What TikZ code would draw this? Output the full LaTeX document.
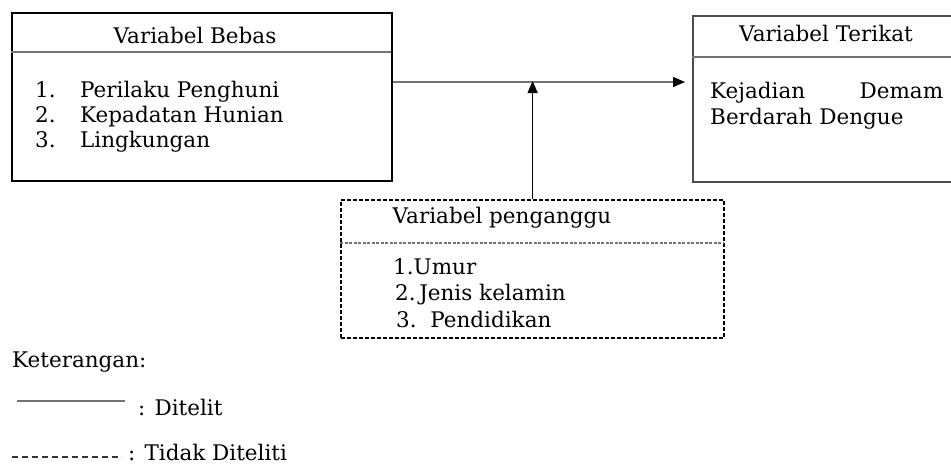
\documentclass[tikz,border=0pt]{standalone}
\usepackage{fontspec}
\setmainfont{DejaVu Serif}
\usetikzlibrary{arrows.meta}
\begin{document}
\begin{tikzpicture}[x=1pt,y=-1pt,
  txt/.style={font=\fontsize{21.5}{24}\selectfont, inner sep=0pt, text=black},
  boxsolid/.style={draw=black, line width=2.4pt, minimum width=380pt, minimum height=168pt, anchor=north west, inner sep=0pt},
  boxthin/.style={draw=black!70, line width=1.5pt, anchor=north west, inner sep=0pt},
  boxdash/.style={draw=black, line width=2.2pt, dash pattern=on 4pt off 2pt, anchor=north west, inner sep=0pt},
  sep/.style={draw=black!55, line width=1.5pt},
  sepdash/.style={draw=black!55, line width=1.5pt, dash pattern=on 3pt off 1.5pt},
  conn/.style={line width=1.3pt, -{Triangle[length=12pt,width=10pt,color=black]}},
]
\useasboundingbox (0,0) rectangle (951,466);
\begin{scope}
\clip (0,0) rectangle (951,466);

% left box
\node[boxsolid] (bebas) at (11,12) {};
\draw[sep] (11,52) -- (391,52);
\node[txt, anchor=base] (tb) at (195,43) {Variabel Bebas};
\node[txt, anchor=base west] (b1n) at (35,97) {1.};
\node[txt, anchor=base west] (b1) at (80,97) {Perilaku Penghuni};
\node[txt, anchor=base west] (b2n) at (35,122) {2.};
\node[txt, anchor=base west] (b2) at (80,122) {Kepadatan Hunian};
\node[txt, anchor=base west] (b3n) at (35,147) {3.};
\node[txt, anchor=base west] (b3) at (80,147) {Lingkungan};

% right box
\node[boxthin, minimum width=270pt, minimum height=166pt] (terikat) at (692,15) {};
\draw[sep] (692,57) -- (962,57);
\node[txt, anchor=base] (tt) at (826,41) {Variabel Terikat};
\node[txt, anchor=base west] (t1) at (710,98) {\makebox[233pt][s]{Kejadian\hfill Demam}};
\node[txt, anchor=base west] (t2) at (710,124) {Berdarah Dengue};

% dashed box
\node[boxdash, minimum width=383pt, minimum height=138pt] (ganggu) at (340,199) {};
\draw[sepdash] (340,243) -- (723,243);
\node[txt, anchor=base] (tg) at (502,223) {Variabel penganggu};
\node[txt, anchor=base west] (g1) at (393,274) {1.Umur};
\node[txt, anchor=base west] (g2) at (395,300) {2.\,Jenis kelamin};
\node[txt, anchor=base west] (g3) at (396,327) {3.\ \ Pendidikan};

% connectors
\coordinate (lv) at (0,82);
\draw[conn, draw=black!55] (bebas.east |- lv) -- ([xshift=-7pt]terikat.west |- lv);
\draw[conn, draw=black] (ganggu.north) -- ([yshift=1pt]ganggu.north |- lv);

% legend
\node[txt, anchor=base west] (ket) at (12,367) {Keterangan:};
\coordinate (l1a) at (17,401);
\coordinate (l1b) at (125,401);
\draw[draw=black!55, line width=2pt] (l1a) -- (l1b);
\node[txt, anchor=base west] (dit) at (138,415) {: Ditelit};
\coordinate (l2a) at (12,457);
\coordinate (l2b) at (122,457);
\draw[draw=black!80, line width=1.5pt, dash pattern=on 6pt off 4pt] (l2a) -- (l2b);
\node[txt, anchor=base west] (tdit) at (128,460) {: Tidak Diteliti};
\end{scope}
\end{tikzpicture}
\end{document}
